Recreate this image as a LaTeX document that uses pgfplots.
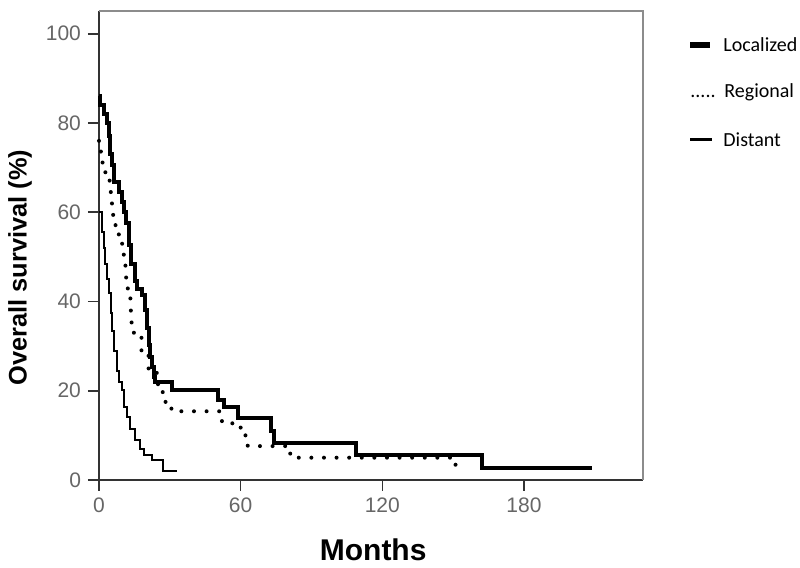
\documentclass[border=0pt]{standalone}
\usepackage{fontspec}
\setmainfont{Liberation Sans}
\newfontfamily\carlito{Carlito}
\usepackage{pgfplots}
\pgfplotsset{compat=1.18}

\begin{document}
\begin{tikzpicture}[x=1pt,y=1pt]
\path[use as bounding box] (0,0) rectangle (400,284);
\begin{axis}[
    at={(49.5pt,44pt)}, anchor=south west,
    width=272pt, height=234.5pt, scale only axis,
    xmin=0, xmax=230.4, ymin=0, ymax=105.1,
    axis x line*=bottom, axis y line*=left,
    axis line style={-, line width=1pt, black!80},
    xtick={0,60,120,180}, ytick={0,20,40,60,80,100},
    tick align=outside, major tick length=5.5pt,
    tick style={line width=0.8pt, black!80},
    ticklabel style={font=\fontsize{10.5}{12}\selectfont, text=black!60},
    /pgf/number format/assume math mode=true,
    xlabel={\bfseries Months},
    ylabel={\bfseries Overall survival (\%)},
    xlabel style={font=\fontsize{15}{18}\selectfont, at={(axis description cs:0.504,-0.149)}, anchor=center},
    ylabel style={font=\fontsize{12.7}{15}\selectfont, at={(axis description cs:-0.1452,0.453)}, anchor=center},
    clip=false
]
% box edges (top, right) in lighter grey
\draw[black!45, line width=1.2pt] (rel axis cs:0,1) -- (rel axis cs:1,1) -- (rel axis cs:1,0);

% Regional
\addplot[const plot, black, line width=2pt, line cap=round, dash pattern=on 0pt off 6.3pt]
coordinates {
(0,76)(0.8,73)(1.5,71)(2.7,68.5)(4.5,66.7)(5,63.8)(5.5,60.9)(6,58.2)(7,55.6)(8.4,53.5)
(9.8,51.3)(10.5,49.3)(11.2,46.6)(11.5,43.6)(12.2,41.4)(13.3,38.8)(13.5,36.2)(13.8,33)(15,32.4)
(18,28)(21,24)(25,19.7)(27,17.5)(30,16)(34,15.4)(51,13.2)(56,12.7)(60,11.7)(62,10)(63,7.6)
(81,5)(151,2.5)(152,2.5)
};

% Localized
\addplot[const plot, black, line width=2pt]
coordinates {
(0,86)(0.6,84)(2,82)(3.5,80)(4.1,77)(4.8,73)(5.6,70.6)(6.3,66.8)(8.4,64.6)(9.8,62.3)
(10.5,60)(11.5,57.5)(12.6,52.6)(13.5,48.3)(15.4,44.5)(16.2,42.9)(18.3,41.4)(19.3,38)
(20.2,34)(21,30.2)(21.8,27.5)(22.5,25.3)(23.2,23)(23.6,21.9)(31,20.1)(50.5,18)(53,16.3)
(59,14)(73,11)(74,8.3)(109,5.5)(162,2.7)(209,2.7)
};

% Distant
\addplot[const plot, black, line width=1pt]
coordinates {
(0,60)(1.3,55.5)(2,52)(2.7,48.5)(3.5,45)(4.2,41.8)(5,37.5)(5.6,33.5)(6.3,29)(7.5,24.5)
(8.5,22)(9.8,20.1)(10.5,16.3)(11.9,14.1)(13.3,11.5)(15.4,8.9)(17.3,7)(19,5.7)(22.5,4.4)
(27,2.1)(33,2.1)
};
\end{axis}

% legend
\draw[line width=3pt] (345,261.5) -- (355,261.5);
\node[anchor=west, inner sep=0, font=\carlito\fontsize{10}{12}\selectfont] at (361.5,261.5) {Localized};
\node[anchor=base west, inner sep=0, font=\carlito\fontsize{10}{12}\selectfont] at (345,235) {.....};
\node[anchor=base west, inner sep=0, font=\carlito\fontsize{10}{12}\selectfont] at (362,235) {Regional};
\draw[line width=1.5pt] (345,214) -- (356,214);
\node[anchor=west, inner sep=0, font=\carlito\fontsize{10}{12}\selectfont] at (361.5,214) {Distant};
\end{tikzpicture}
\end{document}
